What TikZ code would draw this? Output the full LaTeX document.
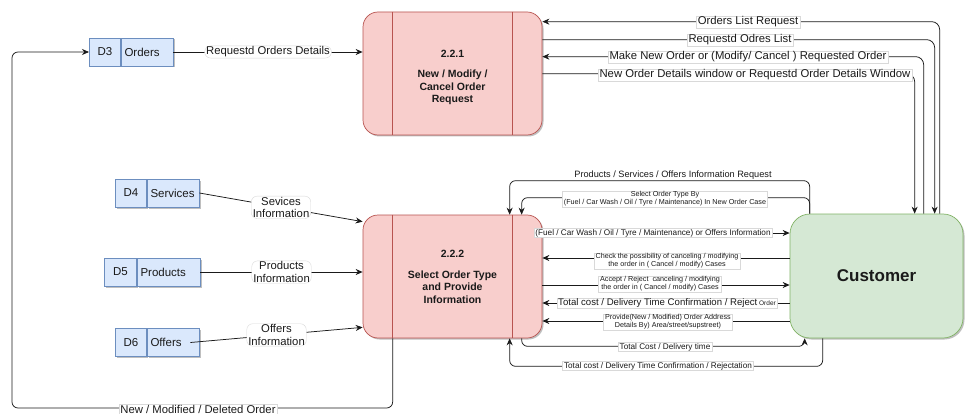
\documentclass[tikz,border=0pt]{standalone}
\usepackage{fontspec}
\setmainfont{Liberation Sans}
\usetikzlibrary{arrows.meta,calc,shadows}
\definecolor{procfill}{HTML}{F8CECC}
\definecolor{procline}{HTML}{B85450}
\definecolor{storefill}{HTML}{DAE8FC}
\definecolor{storeline}{HTML}{6C8EBF}
\definecolor{custfill}{HTML}{D5E8D4}
\definecolor{custline}{HTML}{82B366}
\definecolor{ink}{HTML}{1A1A1A}

\begin{document}
\begin{tikzpicture}[x=1pt,y=-1pt,
  softshadow/.style={drop shadow={shadow xshift=1.5pt,shadow yshift=-1.5pt,opacity=0.25,fill=black}},
  proc/.style={draw=procline, fill=procfill, line width=0.7pt, rounded corners=15pt,
    minimum width=179pt, minimum height=123pt, softshadow},
  proctext/.style={align=center, text=ink, font=\fontsize{10.5}{12.5}\selectfont\bfseries},
  divider/.style={draw=procline, line width=0.7pt},
  cust/.style={draw=custline, fill=custfill, line width=0.7pt, rounded corners=20pt,
    text=ink, font=\fontsize{17}{20}\selectfont\bfseries, softshadow},
  storeid/.style={draw=storeline, fill=storefill, line width=0.7pt, minimum height=28pt,
    inner sep=0pt, anchor=west, text=ink, font=\fontsize{11.5}{13}\selectfont, softshadow},
  storename/.style={storeid, inner xsep=3.5pt, align=left},
  flow/.style={draw=ink, line width=0.75pt, rounded corners=6pt,
    -{Stealth[length=7pt,width=6pt]}},
  lbl/.style={fill=white, draw=black!15, line width=0.4pt, inner xsep=1.5pt,
    inner ysep=0.8pt, align=center, text=ink},
  big/.style={font=\fontsize{11.3}{12.5}\selectfont},
  mid/.style={font=\fontsize{8.2}{9.5}\selectfont},
  small/.style={font=\fontsize{7.2}{8.2}\selectfont}
]
\fill[white] (0,0) rectangle (965,414);
\useasboundingbox (0,0) rectangle (965,414);

% ---------- processes ----------
\node[proc] (p1) at (452.5,73.5) {};
\draw[divider] ($(p1.north west)+(30,0)$) -- ($(p1.south west)+(30,0)$);
\draw[divider] ($(p1.north east)+(-30,0)$) -- ($(p1.south east)+(-30,0)$);
\node[proctext] (p1text) at (452.5,77.5)
  {2.2.1\\[8pt]New / Modify /\\Cancel Order\\Request};

\node[proc] (p2) at (452.5,276.5) {};
\draw[divider] ($(p2.north west)+(30,0)$) -- ($(p2.south west)+(30,0)$);
\draw[divider] ($(p2.north east)+(-30,0)$) -- ($(p2.south east)+(-30,0)$);
\node[proctext] (p2text) at (452.5,277)
  {2.2.2\\[8pt]Select Order Type\\and Provide\\Information};

% ---------- external entity ----------
\node[cust, minimum width=173pt, minimum height=124pt] (cust) at (876.5,276) {Customer};

% ---------- data stores ----------
\node[storeid, minimum width=31pt] (d3id) at (89,52) {D3};
\node[storename, text width=45pt] (d3) at (d3id.east) {Orders};
\node[storeid, minimum width=31pt] (d4id) at (115,193) {D4};
\node[storename, text width=45pt] (d4) at (d4id.east) {Services};
\node[storeid, minimum width=32pt] (d5id) at (104,272) {D5};
\node[storename, text width=56pt] (d5) at (d5id.east) {Products};
\node[storeid, minimum width=31pt] (d6id) at (115,342.5) {D6};
\node[storename, text width=45pt] (d6) at (d6id.east) {Offers};

% ---------- flows on the left ----------
\draw[flow] (d3.east) -- (p1.west |- d3.east)
  node[lbl, big, midway] (lreqdet) {Requestd Orders Details};
\draw[flow] (d4.east) -- ($(p2.north west)+(0,7)$)
  node[lbl, big, midway] (lsev) {Sevices\\Information};
\draw[flow] (d5.east) -- (p2.west |- d5.east)
  node[lbl, big, midway] (lprod) {Products\\Information};
\draw[flow] ($(d6.east)+(-9,0)$) -- ($(p2.south west)+(0,-11)$)
  node[lbl, big, midway] (loff) {Offers\\Information};
\draw[flow] ($(p2.south west)+(30,0)$) |- ($(d3id.west)+(-77,356)$) |- (d3id.west);
\node[lbl, big] (lnew) at (198,409) {New / Modified / Deleted Order};

% ---------- flows between 2.2.1 and Customer ----------
\draw[flow, rounded corners=8pt] ($(cust.north west)+(150,0)$) |- ($(p1.north east)+(0,10)$);
\draw[flow, rounded corners=8pt] ($(p1.north east)+(0,28)$) -| ($(cust.north west)+(145,0)$);
\draw[flow, rounded corners=8pt] ($(cust.north west)+(134,0)$) |- ($(p1.north east)+(0,45)$);
\draw[flow, rounded corners=8pt] ($(p1.north east)+(0,62)$) -| ($(cust.north west)+(125,0)$);
\node[lbl, big] (lolr) at (748,22) {Orders List Request};
\node[lbl, big] (lrol) at (740,40) {Requestd Odres List};
\node[lbl, big] (lmno) at (748,57) {Make New Order or (Modify/ Cancel ) Requested Order};
\node[lbl, big] (lnod) at (755,75) {New Order Details window or Requestd Order Details Window};

% ---------- flows between 2.2.2 and Customer ----------
\coordinate (r1) at (0,233);
\coordinate (r2) at (0,258);
\coordinate (r3) at (0,285);
\coordinate (r4) at (0,303);
\coordinate (r5) at (0,321);

\draw[flow] ($(cust.north west)+(20,0)$) -- ++(0,-33) -| ($(p2.north west)+(147,0)$);
\draw[flow] ($(cust.north west)+(20,0)$) -- ++(0,-16) -| ($(p2.north west)+(159,0)$);
\draw[flow] (p2.east |- r1) -- (cust.west |- r1);
\draw[flow] (cust.west |- r2) -- (p2.east |- r2);
\draw[flow] (p2.east |- r3) -- (cust.west |- r3);
\draw[flow] (cust.west |- r4) -- (p2.east |- r4);
\draw[flow] (cust.west |- r5) -- (p2.east |- r5);
\draw[flow] ($(p2.south west)+(159,0)$) -- ++(0,8) -| ($(cust.south west)+(15,0)$);
\draw[flow] ($(cust.south west)+(33,0)$) -- ++(0,28) -| ($(p2.south west)+(147,0)$);

\node[lbl, font=\fontsize{9.2}{10}\selectfont, draw=none, fill=none] (lpsr) at (673,175)
  {Products / Services / Offers Information Request};
\node[lbl, small] (lsel) at (665,199)
  {Select Order Type By\\(Fuel / Car Wash / Oil / Tyre / Maintenance) In New Order Case};
\node[lbl, mid] (lfuel) at (653,233)
  {(Fuel / Car Wash / Oil / Tyre / Maintenance) or Offers Information};
\node[lbl, small] (lchk) at (667,261)
  {Check the possibility of canceling / modifying\\the order in ( Cancel / modify) Cases};
\node[lbl, small] (lacc) at (660,284)
  {Accept / Reject\ \ canceling / modifying\\the order in ( Cancel / modify) Cases};
\node[lbl, font=\fontsize{9.6}{11}\selectfont] (ltot) at (667,303)
  {Total cost / Delivery Time Confirmation / Reject{\fontsize{6.5}{7}\selectfont\ Order}};
\node[lbl, small] (lprov) at (668,322)
  {Provide(New / Modified) Order Address\\Details By) Area/street/supstreet)};
\node[lbl, mid] (ltcd) at (665,347) {Total Cost / Delivery time};
\node[lbl, mid] (ltcr) at (658,366) {Total cost / Delivery Time Confirmation / Rejectation};
\end{tikzpicture}
\end{document}
